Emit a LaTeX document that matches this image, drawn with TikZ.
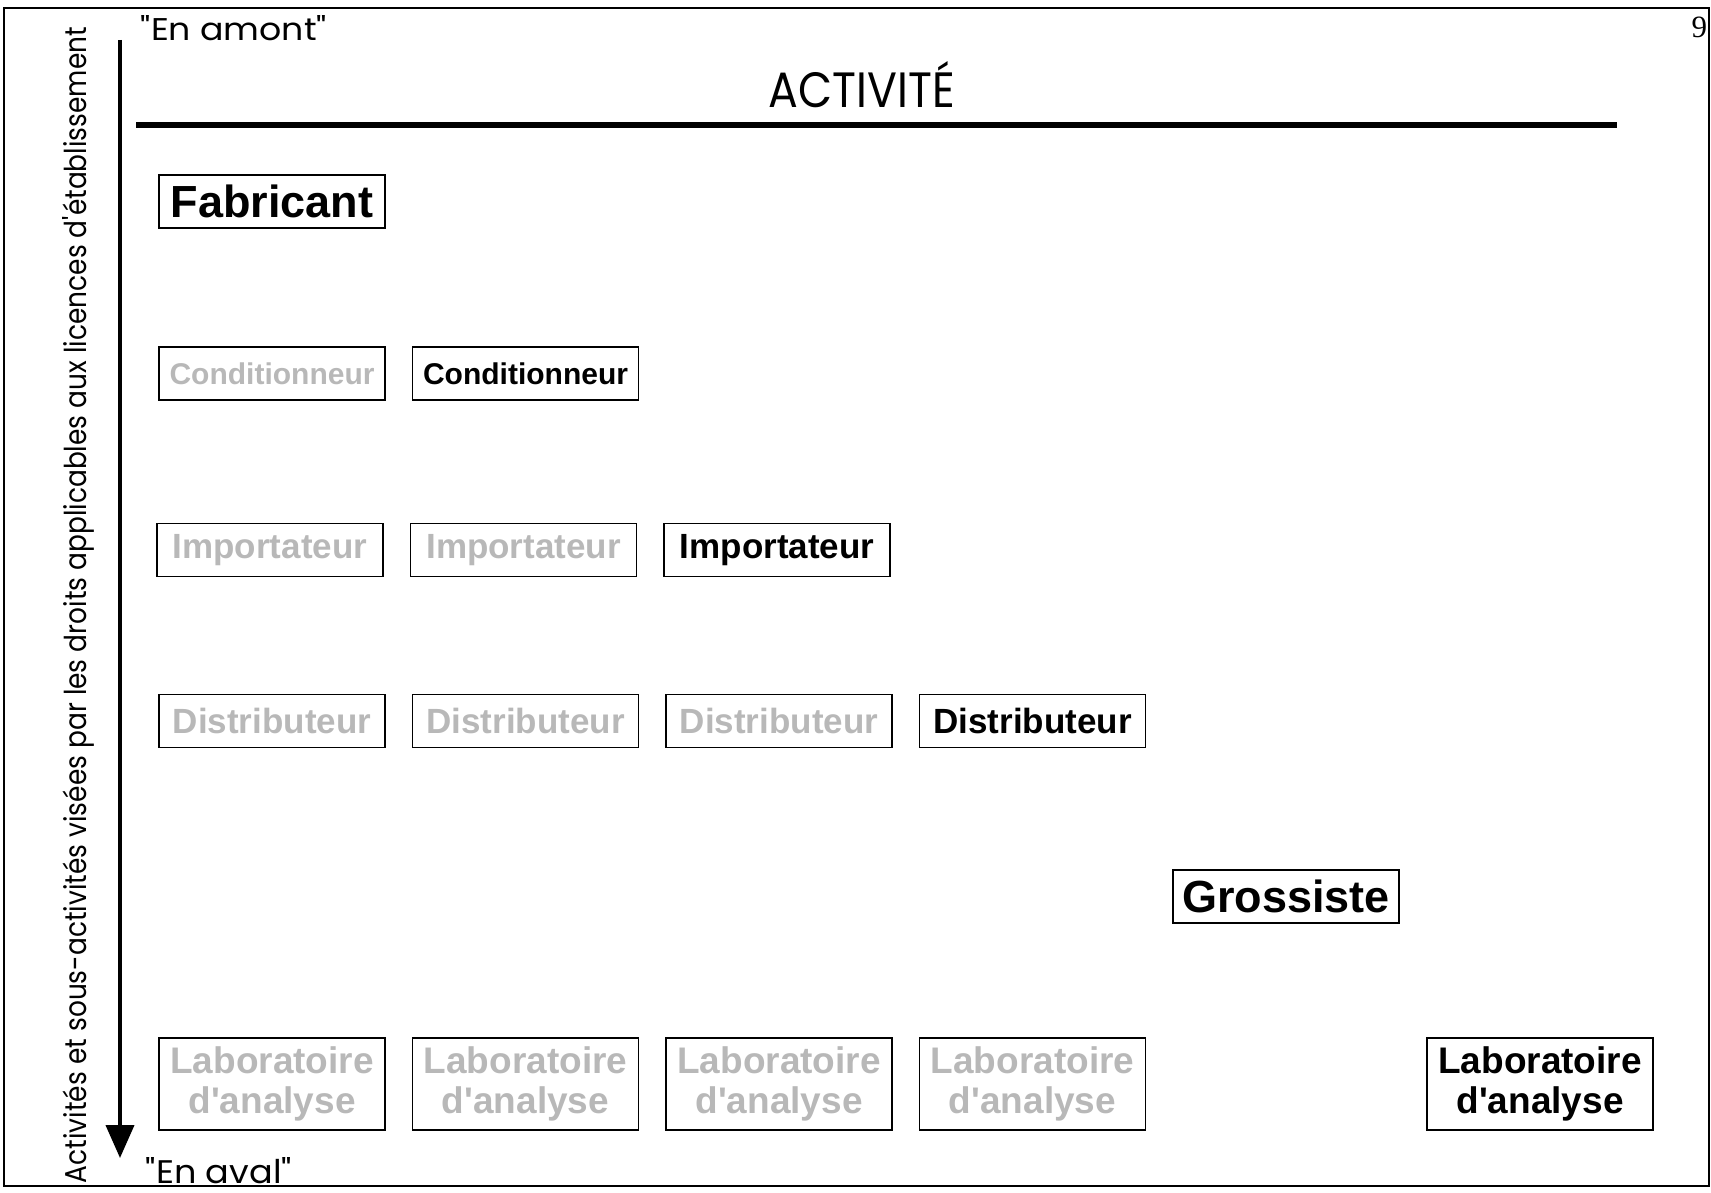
\documentclass[tikz,border=0pt]{standalone}
\usepackage{fontspec}
\usepackage{graphicx}
\setsansfont{Liberation Sans}
\newfontfamily\gothique{Poppins}
\newfontfamily\chiffre{Liberation Serif}
\usetikzlibrary{positioning, arrows.meta}
\definecolor{pale}{gray}{0.72}

\begin{document}
\begin{tikzpicture}[x=1pt,y=-1pt,node distance=253.5pt,line width=1.8pt]
	\tikzstyle{activite}=[draw=black,minimum width=226pt,minimum height=53pt,inner sep=0pt,align=center]
	\tikzstyle{inactif}=[activite,text=pale]
	\tikzstyle{petit}=[font=\sffamily\bfseries\fontsize{30}{34}\selectfont]
	\tikzstyle{moyen}=[font=\sffamily\bfseries\fontsize{35}{40}\selectfont]
	\tikzstyle{grand}=[font=\sffamily\bfseries\fontsize{45}{48}\selectfont]
	\tikzstyle{labo}=[minimum height=92pt,font=\sffamily\bfseries\fontsize{37}{40}\selectfont]
	\tikzstyle{texte}=[inner sep=0pt]

	\useasboundingbox (0,0) rectangle (1711,1193);
	\draw (4,8) rectangle (1709,1186);

	% titre et axe
	\node[texte,anchor=north east,font=\chiffre\fontsize{31}{31}\selectfont] (page) at (1708,16) {9};
	\node[texte,anchor=base west] (amont) at (140,41) {\resizebox{186pt}{25pt}{\gothique "En amont"}};
	\node[texte,anchor=base west] (aval) at (145,1183) {\resizebox{146pt}{26pt}{\gothique "En aval"}};
	\node[texte,anchor=base] (titre) at (862,108) {\resizebox{186pt}{46pt}{\gothique ACTIVITÉ}};
	\node[texte,rotate=90,anchor=base] (axe) at (86,605) {\resizebox{1156pt}{24pt}{\gothique Activités et sous-activités visées par les droits applicables aux licences d'établissement}};

	\coordinate (regle0) at (136,125);
	\coordinate (regle1) at (1617,125);
	\draw[line width=6pt] (regle0) -- (regle1);

	\coordinate (haut) at (120,40);
	\coordinate (bas) at (120,1158);
	\draw[line width=4pt,-{Triangle[width=28pt,length=33pt]}] (haut) -- (bas);

	% activites
	\node[activite,grand] (fab) at (272,201.5) {Fabricant};

	\node[inactif,petit] (cond1) at (272,373.5) {Conditionneur};
	\node[activite,petit] (cond2) [right of=cond1] {Conditionneur};

	\node[inactif,moyen] (imp1) at (270,550) {Importateur};
	\node[inactif,moyen] (imp2) [right of=imp1] {Importateur};
	\node[activite,moyen] (imp3) [right of=imp2] {Importateur};

	\node[inactif,moyen] (dis1) at (272,721) {Distributeur};
	\node[inactif,moyen] (dis2) [right of=dis1] {Distributeur};
	\node[inactif,moyen] (dis3) [right of=dis2] {Distributeur};
	\node[activite,moyen] (dis4) [right of=dis3] {Distributeur};

	\node[activite,grand] (gros) at (1286,896.5) {Grossiste};

	\node[inactif,labo] (lab1) at (272,1084) {Laboratoire\\d\textquotesingle analyse};
	\node[inactif,labo] (lab2) [right of=lab1] {Laboratoire\\d\textquotesingle analyse};
	\node[inactif,labo] (lab3) [right of=lab2] {Laboratoire\\d\textquotesingle analyse};
	\node[inactif,labo] (lab4) [right of=lab3] {Laboratoire\\d\textquotesingle analyse};
	\node[activite,labo] (lab5) at (1540,1084) {Laboratoire\\d\textquotesingle analyse};

\end{tikzpicture}
\end{document}
